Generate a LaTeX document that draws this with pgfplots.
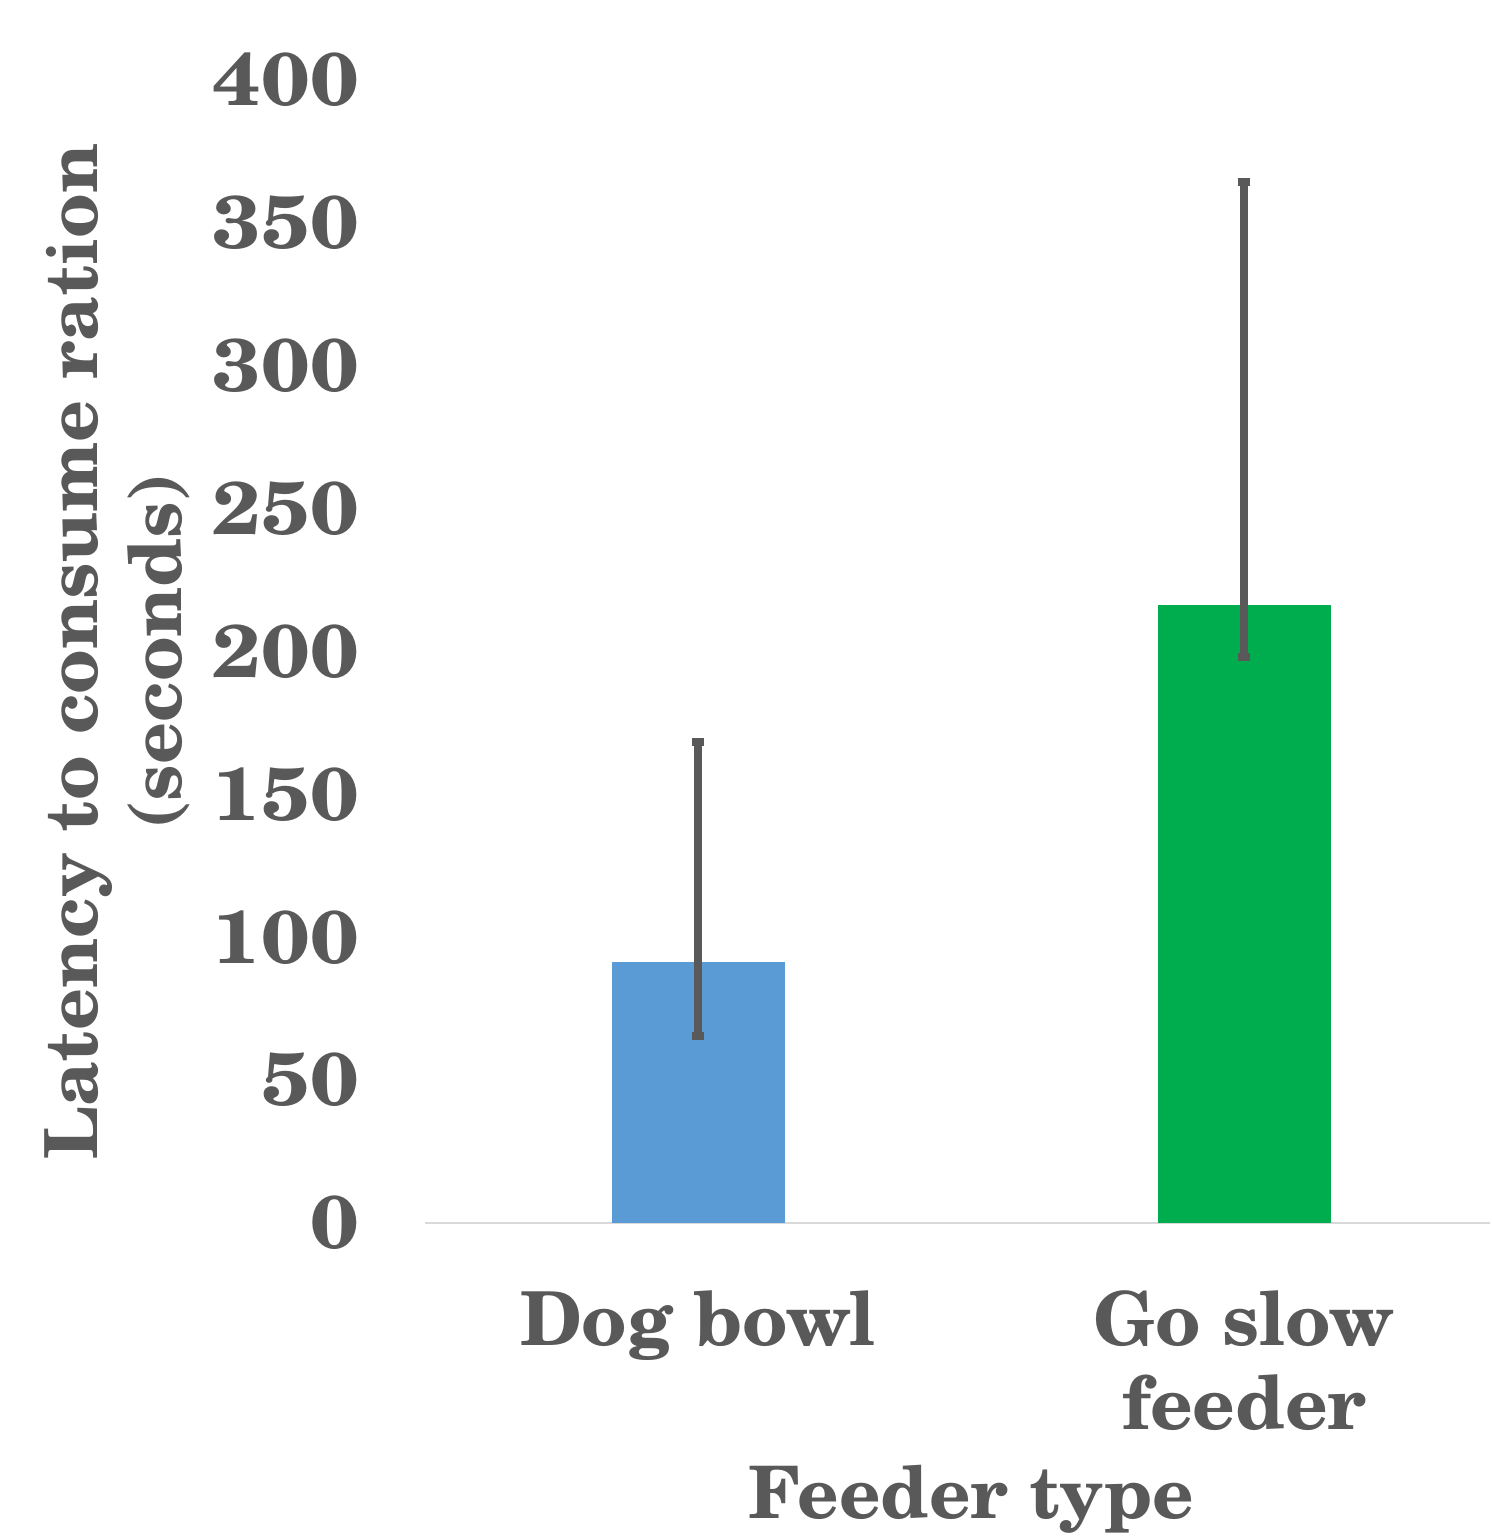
\documentclass[border=0pt]{standalone}
\usepackage{pgfplots}
\pgfplotsset{compat=1.18}
\usepackage{fontspec}
\setmainfont{TeX Gyre Schola}
\newfontfamily\tickfont{TeX Gyre Schola}[FakeStretch=1.14]

\definecolor{txt}{HTML}{595959}
\definecolor{bowl}{HTML}{5B9BD5}
\definecolor{slow}{HTML}{00AD4E}
\definecolor{basecol}{HTML}{D9D9D9}

\begin{document}
\begin{tikzpicture}
\begin{axis}[
    name=ax,
    scale only axis,
    width=266.25pt, height=285.75pt,
    xmin=-0.5, xmax=1.45,
    ymin=0, ymax=400,
    ybar,
    bar width=43.25pt,
    axis line style={draw=none},
    tick style={draw=none},
    xtick={0,1},
    xticklabels={Dog bowl, {Go slow\\feeder}},
    ytick={0,50,...,400},
    /pgf/number format/assume math mode=true,
    tick label style={font=\fontsize{18.6}{21}\selectfont\bfseries, color=txt},
    xticklabel style={align=center, yshift=-9pt},
    yticklabel style={xshift=-13pt, font=\fontsize{18.6}{21}\selectfont\tickfont\bfseries},
    xlabel={Feeder type},
    xlabel style={at={(axis description cs:0.513,0)}, anchor=north, yshift=-57pt,
        font=\fontsize{18.1}{21}\selectfont\bfseries, color=txt},
    ylabel={Latency to consume ration\\(seconds)},
    ylabel style={at={(axis description cs:0,0.5)}, anchor=center, yshift=77pt,
        align=center, font=\fontsize{18.3}{21}\selectfont\bfseries, color=txt},
]
\draw[draw=basecol, line width=0.6pt] (rel axis cs:0,0) -- (rel axis cs:1,0);
\addplot[fill=bowl, draw=none, bar shift=0pt,
    error bars/.cd, y dir=both, y explicit,
    error bar style={line width=2pt, draw=txt},
    error mark options={rotate=90, line width=2pt, mark size=1.5pt, draw=txt}]
    coordinates {(0,91.3) += (0,77) -= (0,25.8)};
\addplot[fill=slow, draw=none, bar shift=0pt,
    error bars/.cd, y dir=both, y explicit,
    error bar style={line width=2pt, draw=txt},
    error mark options={rotate=90, line width=2pt, mark size=1.5pt, draw=txt}]
    coordinates {(1,216.3) += (0,148) -= (0,18.2)};
\end{axis}
\pgfresetboundingbox
\path[use as bounding box] ([xshift=-106.25pt, yshift=-79.25pt]ax.south west)
    rectangle ([xshift=0.25pt, yshift=20pt]ax.north east);
\end{tikzpicture}
\end{document}
